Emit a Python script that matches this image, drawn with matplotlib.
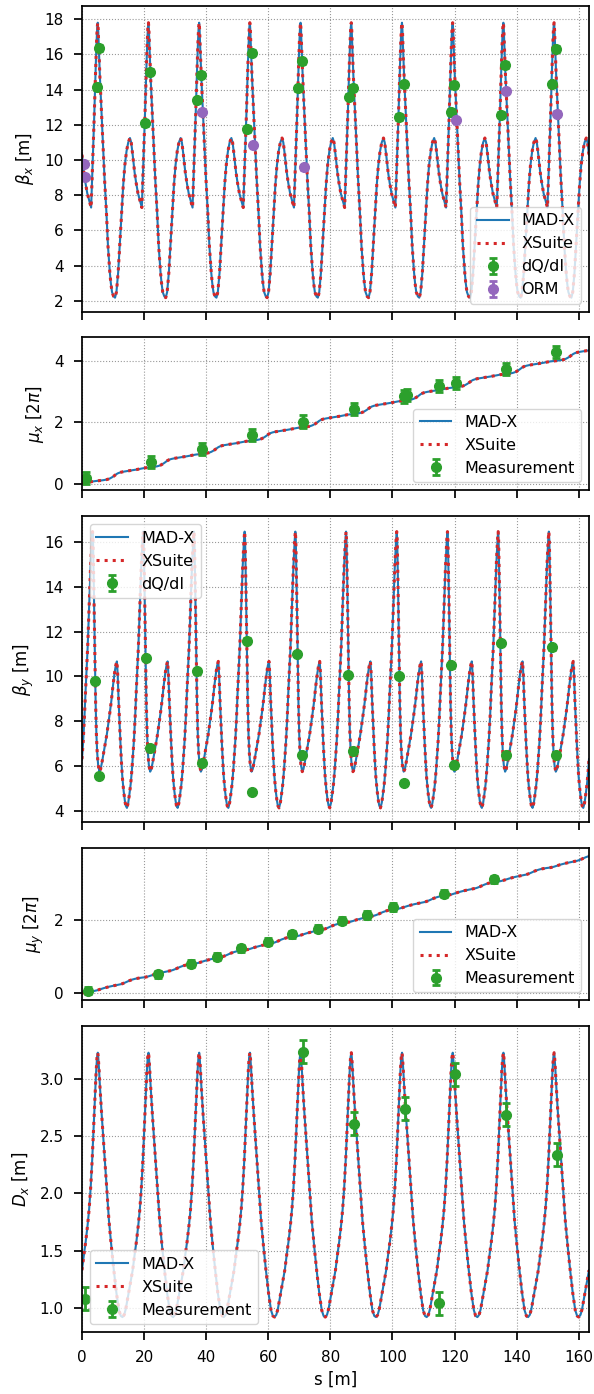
import numpy as np
import matplotlib
matplotlib.use("Agg")
import matplotlib.pyplot as plt

# ---------------- lattice: 10 identical cells ----------------
N_CELLS = 10
CELL_LENGTH = 16.33

# beta_x over one cell
cell_s_betx = [0.0, 0.62, 1.12, 1.72, 2.32, 2.72, 2.95, 3.2, 3.45, 3.7, 3.95, 4.2, 4.45,
               4.7, 4.9, 5.08, 5.23, 5.38, 5.78, 6.28, 6.78, 7.28, 7.88, 8.38, 8.98, 9.3,
               9.68, 10.2, 10.65, 11.1, 11.65, 12.05, 12.45, 12.9, 13.3, 13.8, 14.35, 14.9,
               15.45, 15.85]
cell_betx = [10.3, 9.3, 8.7, 8.1, 7.7, 7.45, 7.3, 8.6, 9.9, 11.2, 12.5, 14.0, 15.4,
             16.7, 17.5, 17.8, 17.4, 16.6, 14.7, 12.8, 10.9, 8.9, 7.0, 5.1, 3.6, 3.0,
             2.5, 2.25, 2.18, 2.5, 3.6, 4.8, 6.1, 7.4, 8.6, 9.7, 10.5, 11.0,
             11.25, 11.0]

# beta_y over one cell
cell_s_bety = [0.0, 0.41, 0.8, 1.14, 1.5, 1.83, 2.24, 2.5, 2.77, 3.0, 3.19, 3.4, 3.55,
               3.7, 3.85, 4.0, 4.2, 4.4, 4.65, 4.9, 5.2, 5.63, 6.0, 6.5, 7.0, 7.5, 8.0,
               8.5, 9.0, 9.5, 10.0, 10.5, 10.9, 11.25, 11.5, 11.8, 12.1, 12.4, 12.7, 13.0,
               13.4, 13.8, 14.1, 14.48, 14.9, 15.3, 15.7, 16.1]
cell_bety = [6.3, 7.15, 8.2, 9.3, 10.3, 11.3, 12.9, 13.9, 14.9, 15.6, 16.1, 16.47, 16.1,
             15.0, 13.7, 12.3, 10.5, 8.8, 7.4, 6.6, 6.05, 5.74, 5.85, 6.2, 6.6, 7.0, 7.4,
             7.9, 8.4, 8.95, 9.6, 10.15, 10.5, 10.67, 10.1, 8.9, 7.9, 7.0, 6.2, 5.5,
             4.9, 4.45, 4.22, 4.12, 4.35, 4.75, 5.2, 5.85]

# D_x over one cell
cell_s_dx = [0.0, 0.6, 1.2, 1.8, 2.3, 2.8, 3.3, 3.8, 4.2, 4.55, 4.85, 5.1, 5.25, 5.5,
             5.8, 6.3, 7.0, 7.9, 8.7, 9.5, 10.3, 11.1, 11.9, 12.5, 13.05, 13.6, 14.1,
             14.7, 15.4, 16.0]
cell_dx = [1.33, 1.46, 1.58, 1.72, 1.86, 2.05, 2.3, 2.6, 2.86, 3.06, 3.19, 3.23, 3.19, 3.08,
           2.93, 2.71, 2.43, 2.07, 1.76, 1.53, 1.32, 1.13, 0.98, 0.93, 0.92, 0.94, 0.99,
           1.08, 1.19, 1.28]

# phase advance over one cell [2pi]
cell_s_mux = [0.0, 0.6, 1.2, 1.8, 2.4, 3.0, 3.5, 4.0, 4.5, 5.1, 5.8, 6.8, 7.9, 8.4, 9.0,
              9.7, 10.2, 10.65, 11.1, 11.65, 12.45, 13.3, 14.35, 15.45]
cell_mux = [0.0, 0.011, 0.021, 0.033, 0.046, 0.059, 0.068, 0.076, 0.082, 0.088, 0.095,
            0.108, 0.128, 0.142, 0.165, 0.205, 0.238, 0.274, 0.307, 0.338, 0.366, 0.385,
            0.404, 0.421]
CELL_QX = 0.434

cell_s_muy = [0.0, 0.4, 0.8, 1.15, 1.5, 1.85, 2.25, 2.75, 3.4, 4.0, 4.4, 4.9, 5.6, 6.3,
              7.0, 8.0, 9.0, 10.0, 11.25, 11.8, 12.4, 13.0, 13.8, 14.5, 15.3, 16.1]
cell_muy = [0.0, 0.010, 0.019, 0.025, 0.031, 0.036, 0.042, 0.049, 0.055, 0.062, 0.069,
            0.080, 0.100, 0.120, 0.138, 0.162, 0.183, 0.201, 0.222, 0.231, 0.244, 0.260,
            0.287, 0.314, 0.345, 0.370]
CELL_QY = 0.376

# ---------------- measurements ----------------
betx_dqdi_s = [4.94, 5.58, 20.4, 21.9, 36.9, 38.3, 53.3, 54.7, 69.5, 70.9, 85.9, 87.2,
               102.2, 103.7, 118.7, 119.9, 135.0, 136.4, 151.5, 152.7]
betx_dqdi = [14.15, 16.37, 12.09, 15.01, 13.39, 14.84, 11.76, 16.09, 14.07, 15.6, 13.6,
             14.1, 12.45, 14.3, 12.72, 14.25, 12.58, 15.4, 14.3, 16.3]
betx_dqdi_err = [0.15] * len(betx_dqdi)

betx_orm_s = [0.65, 0.86, 38.8, 55.2, 71.5, 120.4, 136.7, 152.9]
betx_orm = [9.77, 9.04, 12.74, 10.86, 9.58, 12.26, 13.9, 12.64]
betx_orm_err = [0.12] * len(betx_orm)

mux_meas_s = [1.2, 22.2, 38.7, 54.9, 71.2, 87.7, 103.8, 104.6, 114.9, 120.4, 136.7, 152.7]
mux_meas = [0.19, 0.69, 1.12, 1.59, 2.02, 2.44, 2.84, 2.89, 3.19, 3.27, 3.74, 4.29]
mux_meas_err = [0.2] * len(mux_meas)

bety_dqdi_s = [4.2, 5.6, 20.5, 21.9, 37.1, 38.5, 53.2, 54.7, 69.4, 71.0, 85.8, 87.3,
               102.2, 103.7, 118.7, 119.9, 135.0, 136.5, 151.4, 152.7]
bety_dqdi = [9.8, 5.54, 10.82, 6.79, 10.22, 6.14, 11.6, 4.83, 11.0, 6.49, 10.07, 6.66,
             10.02, 5.24, 10.49, 6.02, 11.5, 6.48, 11.3, 6.5]
bety_dqdi_err = [0.1] * len(bety_dqdi)

muy_meas_s = [1.95, 24.5, 35.0, 43.4, 51.2, 59.8, 67.6, 76.1, 83.9, 91.7, 100.2, 116.6, 132.8]
muy_meas = [0.07, 0.52, 0.81, 1.0, 1.23, 1.41, 1.61, 1.77, 1.99, 2.14, 2.36, 2.73, 3.12]
muy_meas_err = [0.1] * len(muy_meas)

dx_meas_s = [1.0, 71.3, 87.6, 104.0, 114.9, 120.3, 136.7, 153.0]
dx_meas = [1.08, 3.24, 2.61, 2.74, 1.04, 3.04, 2.69, 2.34]
dx_meas_err = [0.1] * len(dx_meas)

XTICKS = [0, 20, 40, 60, 80, 100, 120, 140, 160]


def ring(cell_s, cell_v, advance=None):
    """Repeat one cell over the ring (periodic lattice)."""
    s_parts, v_parts = [], []
    for k in range(N_CELLS):
        s_parts.append(np.asarray(cell_s) + k * CELL_LENGTH)
        if advance is None:
            v_parts.append(np.asarray(cell_v))
        else:
            v_parts.append(np.asarray(cell_v) + k * advance)
    s_parts.append([N_CELLS * CELL_LENGTH])
    v_parts.append([cell_v[0] if advance is None else N_CELLS * advance])
    return np.concatenate(s_parts), np.concatenate(v_parts)


s_bx, betx = ring(cell_s_betx, cell_betx)
s_by, bety = ring(cell_s_bety, cell_bety)
s_dx, dx = ring(cell_s_dx, cell_dx)
s_mx, mux = ring(cell_s_mux, cell_mux, CELL_QX)
s_my, muy = ring(cell_s_muy, cell_muy, CELL_QY)

# ---------------- figure ----------------
plt.rcParams.update({
    "font.family": "DejaVu Sans",
    "font.size": 12,
    "axes.labelsize": 12,
    "axes.linewidth": 1.25,
    "xtick.major.size": 6,
    "ytick.major.size": 6,
    "xtick.major.width": 1.25,
    "ytick.major.width": 1.25,
    "xtick.major.pad": 7,
    "ytick.major.pad": 7,
    "xtick.labelsize": 11,
    "ytick.labelsize": 11,
    "legend.fontsize": 11.5,
})

fig = plt.figure(figsize=(5.94, 13.94), dpi=100)
gs = fig.add_gridspec(5, 1, height_ratios=[2, 1, 2, 1, 2], left=0.138, right=0.9916,
                      top=0.9957, bottom=0.0445, hspace=0.106)
axes = [fig.add_subplot(gs[i]) for i in range(5)]

C_MADX = "#1f77b4"
C_XS = "#d62728"
C_MEAS = "#2ca02c"
C_ORM = "#9467bd"
EB = dict(fmt="o", ms=7, capsize=3, elinewidth=2, capthick=2)
LABELPAD = 6


def model(ax, s, v):
    ax.plot(s, v, color=C_MADX, lw=1.5, label="MAD-X")
    ax.plot(s, v, color=C_XS, lw=2.2, ls=":", label="XSuite")


ax = axes[0]
model(ax, s_bx, betx)
ax.errorbar(betx_dqdi_s, betx_dqdi, yerr=betx_dqdi_err, color=C_MEAS, label="dQ/dI", **EB)
ax.errorbar(betx_orm_s, betx_orm, yerr=betx_orm_err, color=C_ORM, label="ORM", **EB)
ax.set_ylim(1.39, 18.75)
ax.set_yticks([2, 4, 6, 8, 10, 12, 14, 16, 18])
ax.set_ylabel(r"$\beta_x$ [m]", labelpad=LABELPAD)
ax.legend(loc="lower right")

ax = axes[1]
model(ax, s_mx, mux)
ax.errorbar(mux_meas_s, mux_meas, yerr=mux_meas_err, color=C_MEAS, label="Measurement", **EB)
ax.set_ylim(-0.22, 4.76)
ax.set_yticks([0, 2, 4])
ax.set_ylabel(r"$\mu_x$ [$2\pi$]", labelpad=LABELPAD)
ax.legend(loc="lower right")

ax = axes[2]
model(ax, s_by, bety)
ax.errorbar(bety_dqdi_s, bety_dqdi, yerr=bety_dqdi_err, color=C_MEAS, label="dQ/dI", **EB)
ax.set_ylim(3.5, 17.16)
ax.set_yticks([4, 6, 8, 10, 12, 14, 16])
ax.set_ylabel(r"$\beta_y$ [m]", labelpad=LABELPAD)
ax.legend(loc="upper left")

ax = axes[3]
model(ax, s_my, muy)
ax.errorbar(muy_meas_s, muy_meas, yerr=muy_meas_err, color=C_MEAS, label="Measurement", **EB)
ax.set_ylim(-0.2, 3.99)
ax.set_yticks([0, 2])
ax.set_ylabel(r"$\mu_y$ [$2\pi$]", labelpad=LABELPAD)
ax.legend(loc="lower right")

ax = axes[4]
model(ax, s_dx, dx)
ax.errorbar(dx_meas_s, dx_meas, yerr=dx_meas_err, color=C_MEAS, label="Measurement", **EB)
ax.set_ylim(0.79, 3.46)
ax.set_yticks([1.0, 1.5, 2.0, 2.5, 3.0])
ax.set_ylabel(r"$D_x$ [m]", labelpad=LABELPAD)
ax.set_xlabel("s [m]")
ax.legend(loc="lower left")

for i, ax in enumerate(axes):
    ax.set_xlim(0, N_CELLS * CELL_LENGTH)
    ax.set_xticks(XTICKS)
    ax.grid(True, ls=":", color="#999999", lw=0.8)
    if i < 4:
        ax.tick_params(labelbottom=False)

fig.savefig("out.png", dpi=100)
